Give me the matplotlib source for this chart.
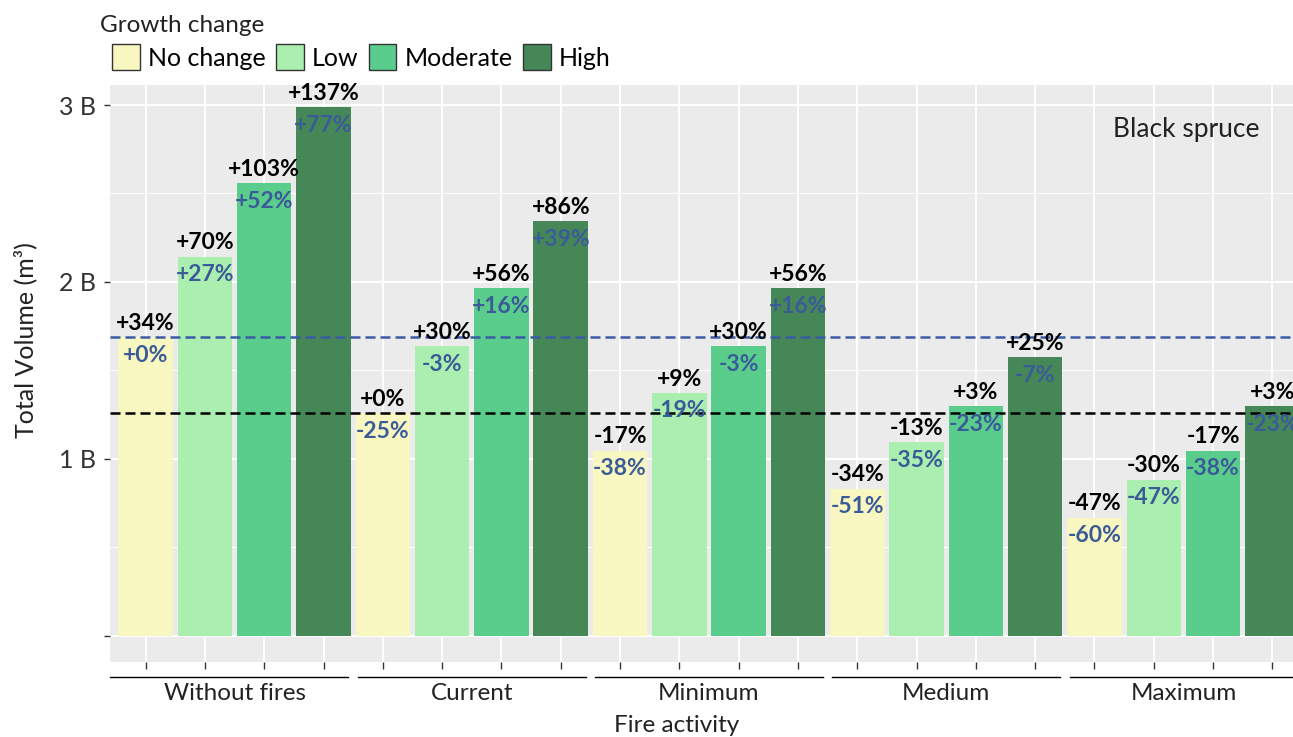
import matplotlib.pyplot as plt
import matplotlib.patches as mpatches
import matplotlib.transforms as mtransforms
import numpy as np

plt.rcParams['font.family'] = ['Lato', 'DejaVu Sans']

# fire activity scenarios and growth change levels
scenarios = ['Without fires', 'Current', 'Minimum', 'Medium', 'Maximum']
growth_levels = ['No change', 'Low', 'Moderate', 'High']
colors = ['#F8F7C1', '#AAEEB0', '#5ACD8C', '#468758']

# total volume under current fires, no growth change (billion m3)
current_volume = 1.26

# change relative to current fires / no growth change (%)
pct_vs_current = [[34, 70, 103, 137],
                  [0, 30, 56, 86],
                  [-17, 9, 30, 56],
                  [-34, -13, 3, 25],
                  [-47, -30, -17, 3]]

# change relative to no fires / no growth change (%)
pct_vs_nofire = [[0, 27, 52, 77],
                 [-25, -3, 16, 39],
                 [-38, -19, -3, 16],
                 [-51, -35, -23, -7],
                 [-60, -47, -38, -23]]

volumes = current_volume * (1 + np.array(pct_vs_current) / 100.0)
nofire_volume = volumes[0][0]

blue = '#3B5B98'

fig = plt.figure(figsize=(12.93, 7.37), dpi=100)
W, H = 1293, 737
ax = fig.add_axes([110 / W, 1 - 662 / H, (1308 - 110) / W, (662 - 85) / H])
ax.set_facecolor('#EBEBEB')

n_lev = len(growth_levels)
for g, scen in enumerate(scenarios):
    for k in range(n_lev):
        x = g * n_lev + k
        v = volumes[g][k]
        ax.bar(x, v, width=0.92, color=colors[k], zorder=2)
        ax.annotate(f'{pct_vs_current[g][k]:+d}%', (x, v), xytext=(0, 10),
                    textcoords='offset points', ha='center', va='center',
                    fontsize=16.5, fontweight='bold', color='black', zorder=5)
        ax.annotate(f'{pct_vs_nofire[g][k]:+d}%', (x, v), xytext=(0, -13),
                    textcoords='offset points', ha='center', va='center',
                    fontsize=16.5, fontweight='bold', color=blue, zorder=5)

# reference levels
ax.axhline(nofire_volume, color='#3A5BA5', ls=(0, (4, 2)), lw=1.8, zorder=3)
ax.axhline(current_volume, color='black', ls=(0, (4, 2)), lw=1.8, zorder=3)

n_bars = len(scenarios) * n_lev
ax.set_xlim(-0.6, n_bars - 0.4)
ax.set_ylim(-0.147, 3.113)

ax.set_yticks([0, 1, 2, 3])
ax.set_yticklabels(['', '1 B', '2 B', '3 B'])
ax.set_yticks([0.5, 1.5, 2.5], minor=True)
ax.set_xticks(range(n_bars))
ax.set_xticklabels([])
ax.tick_params(axis='y', which='major', length=4, width=1, color='#333333',
               labelsize=18, labelcolor='#333333', pad=6)
ax.tick_params(axis='x', which='major', length=5, width=1, color='#333333')
ax.tick_params(which='minor', length=0)
ax.grid(which='major', color='white', lw=1.4, zorder=0)
ax.grid(which='minor', axis='y', color='white', lw=0.7, zorder=0)
ax.set_axisbelow(True)
for s in ax.spines.values():
    s.set_visible(False)

# scenario labels under each group of bars
trans = mtransforms.blended_transform_factory(ax.transData, fig.transFigure)
for g, scen in enumerate(scenarios):
    x0 = g * n_lev - 0.42 if g > 0 else -0.6
    x1 = g * n_lev + n_lev - 1 + 0.42
    ax.plot([x0, x1], [1 - 677 / H] * 2, color='black', lw=1,
            transform=trans, clip_on=False)
    ax.text(g * n_lev + (n_lev - 1) / 2, 1 - 694 / H, scen, transform=trans,
            ha='center', va='center', fontsize=17.5, color='#222222')

fig.text(677 / W, 1 - 726 / H, 'Fire activity', ha='center', va='center',
         fontsize=17.5, color='#222222')
fig.text(25 / W, 1 - 340 / H, 'Total Volume (m³)', rotation=90,
         ha='center', va='center', fontsize=18, color='#222222')

ax.text(1186, 2.86, 'Black spruce', transform=mtransforms.blended_transform_factory(
    mtransforms.IdentityTransform(), ax.transData), ha='center', va='center',
    fontsize=19, color='#222222')

# legend
fig.text(100 / W, 1 - 26 / H, 'Growth change', ha='left', va='center',
         fontsize=17.5, color='#222222')
handles = [mpatches.Patch(facecolor=c, edgecolor='#333333', lw=1, label=l)
           for c, l in zip(colors, growth_levels)]
leg = fig.legend(handles=handles, ncol=4,
                 loc='upper left', bbox_to_anchor=(112 / W, 1 - 44 / H),
                 frameon=False, fontsize=18,
                 handlelength=1.1, handleheight=1.25, handletextpad=0.33,
                 columnspacing=0.42, borderpad=0, borderaxespad=0)

fig.savefig('out.png', dpi=100)
